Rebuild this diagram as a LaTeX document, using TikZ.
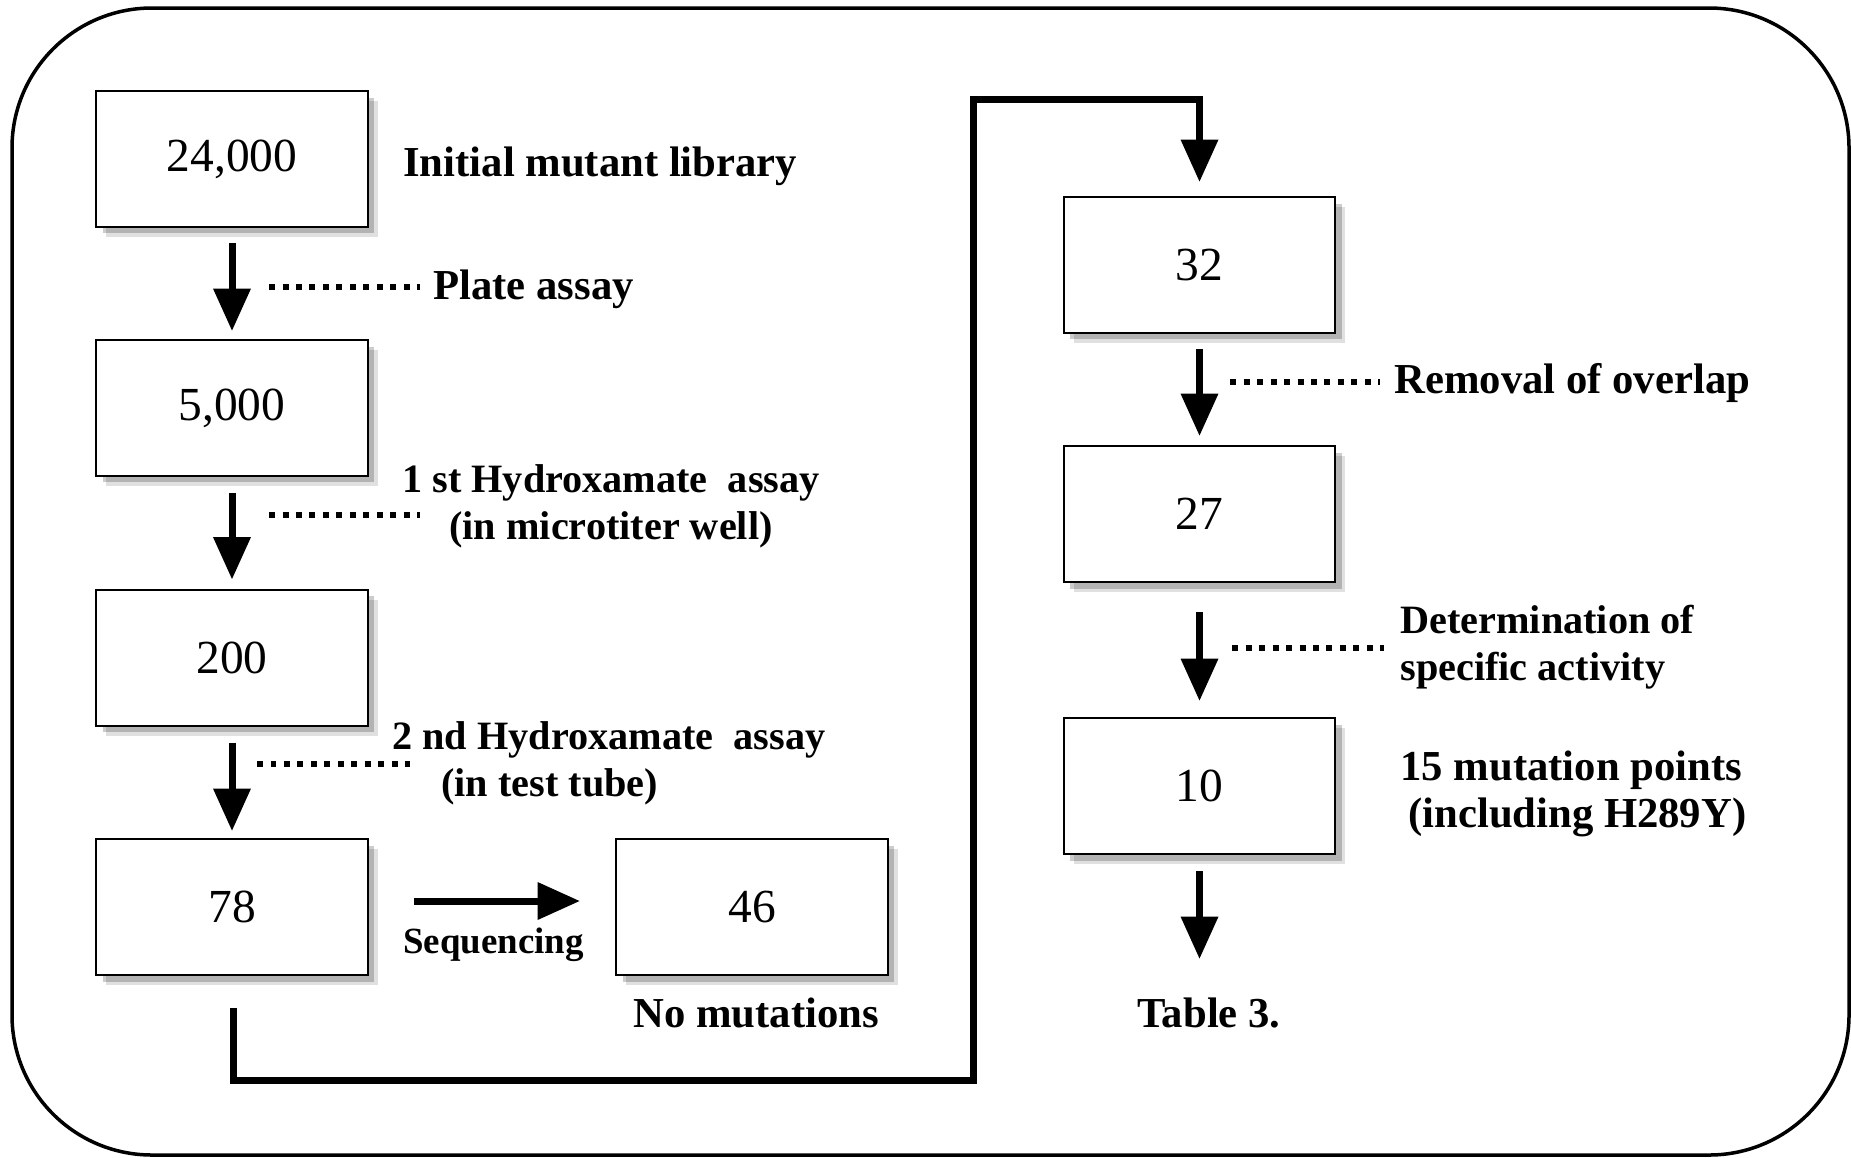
\documentclass[tikz,border=0pt]{standalone}
\usepackage{fontspec}
\setmainfont{Liberation Serif}
\usetikzlibrary{arrows.meta,shadows,calc}

\begin{document}
\begin{tikzpicture}[x=0.02cm,y=-0.02cm,
    box/.style={draw,line width=0.04cm,fill=white,minimum width=5.44cm,minimum height=2.72cm,inner sep=0pt,
        font=\fontsize{27}{32}\selectfont,
        drop shadow={shadow xshift=0.20cm,shadow yshift=-0.20cm,fill=black,opacity=0.12},
        drop shadow={shadow xshift=0.13cm,shadow yshift=-0.13cm,fill=black,opacity=0.2}},
    lbl/.style={anchor=west,inner sep=0pt,font=\fontsize{24.3}{26.6}\selectfont\bfseries,align=left},
    lblmid/.style={lbl,font=\fontsize{22.9}{26.6}\selectfont\bfseries},
    lblsmall/.style={lbl,font=\fontsize{21}{25}\selectfont\bfseries},
    flow/.style={line width=0.14cm,-{Triangle[width=0.72cm,length=0.85cm]}},
    dots/.style={line width=0.13cm,dash pattern=on 0.12cm off 0.15cm}]
    \useasboundingbox (0,0) rectangle (1851,1157);
    \draw [line width=0.07cm,rounded corners=2.8cm] (12,8) rectangle (1849,1155);

    \node [box] (n24000) at (232,159) {24,000};
    \node [box] (n5000) at (232,408) {5,000};
    \node [box] (n200) at (232,657.5) {200};
    \node [box] (n78) at (232,907) {78};
    \node [box] (n46) at (752,907) {46};
    \node [box] (n32) at (1199.5,265) {32};
    \node [box] (n27) at (1199.5,514) {27};
    \node [box] (n10) at (1199.5,786) {10};
    \coordinate (turn) at (973,1080);
    \coordinate (top) at (1199.5,99);
    \coordinate (tblend) at (1199.5,959);

    \draw [flow] ([shift={(0,15)}]n24000.south) -- ([shift={(0,-8)}]n5000.north);
    \draw [flow] ([shift={(0,16)}]n5000.south) -- ([shift={(0,-9)}]n200.north);
    \draw [flow] ([shift={(0,16)}]n200.south) -- ([shift={(0,-7)}]n78.north);
    \draw [flow] ([shift={(45,-6)}]n78.east) -- ([shift={(-35,-6)}]n46.west);
    \draw [flow] ([shift={(1,32)}]n78.south) |- (turn) |- (top) -- ([shift={(0,-14)}]n32.north);
    \draw [flow] ([shift={(0,15)}]n32.south) -- ([shift={(0,-9)}]n27.north);
    \draw [flow] ([shift={(0,29)}]n27.south) -- ([shift={(0,-16)}]n10.north);
    \draw [flow] ([shift={(0,16)}]n10.south) -- (tblend);

    \draw [dots] (269,287) -- (420,287);
    \draw [dots] (269,515) -- (420,515);
    \draw [dots] (257,764) -- (410,764);
    \draw [dots] (1230,382) -- (1380,382);
    \draw [dots] (1232,648) -- (1384,648);

    \node [lbl] (library) at (403,166) {Initial mutant library};
    \node [lbl] (plate) at (433,289) {Plate assay};
    \node [lblmid,anchor=center,align=center] (hydro1) at (611,506) {1 st Hydroxamate\ \ assay\\(in microtiter well)};
    \node [lblmid] (hydro2) at (392,763) {2 nd Hydroxamate\ \ assay\\\hspace*{0.98cm}(in test tube)};
    \node [lblsmall] (seq) at (403,945) {Sequencing};
    \node [lbl] (nomut) at (633,1013) {No mutations};
    \node [lbl] (overlap) at (1394,383) {Removal of overlap};
    \node [lblmid] (activity) at (1400,647) {Determination of\\specific activity};
    \node [lbl] (points) at (1400,794) {15 mutation points\\\hspace*{0.16cm}(including H289Y)};
    \node [lbl] (table) at (1137,1013) {Table 3.};
\end{tikzpicture}
\end{document}
